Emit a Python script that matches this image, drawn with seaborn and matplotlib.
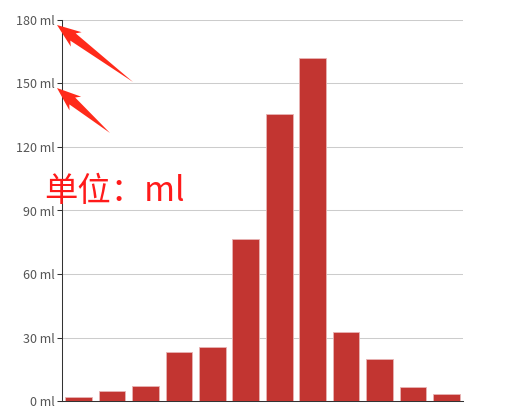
import numpy as np
import pandas as pd
import seaborn as sns
import matplotlib.pyplot as plt
from matplotlib.patches import Polygon

# rainfall per month (ml)
months = ['1月', '2月', '3月', '4月', '5月', '6月',
          '7月', '8月', '9月', '10月', '11月', '12月']
rainfall = [2.0, 4.9, 7.0, 23.2, 25.6, 76.7, 135.6, 162.2, 32.6, 20.0, 6.4, 3.3]
y_ticks = [0, 30, 60, 90, 120, 150, 180]
y_tick_labels = [f'{v} ml' for v in y_ticks]

sns.set_theme(style='white')
plt.rcParams['font.family'] = ['Noto Sans CJK SC', 'DejaVu Sans']

df = pd.DataFrame({'month': months, 'rainfall': rainfall})

W, H = 512, 411
fig = plt.figure(figsize=(W / 100, H / 100), dpi=100)
ax = fig.add_axes([62 / W, 10 / H, 401 / W, 381 / H])

sns.barplot(data=df, x='month', y='rainfall', color='#c23531', saturation=1,
            width=0.8, edgecolor='#e8b4b4', linewidth=0.6, ax=ax, zorder=3)

ax.set_ylim(0, 180)
ax.set_xlim(-0.5, len(months) - 0.5)
ax.set_yticks(y_ticks)
ax.set_yticklabels(y_tick_labels)
ax.set_xlabel('')
ax.set_ylabel('')
ax.yaxis.grid(True, color='#cccccc', linewidth=0.75, zorder=0)
ax.xaxis.grid(False)
for side in ['top', 'right']:
    ax.spines[side].set_visible(False)
for side in ['left', 'bottom']:
    ax.spines[side].set_color('#333333')
    ax.spines[side].set_linewidth(0.75)
ax.tick_params(axis='y', left=True, length=3.6, width=0.75, color='#333333',
               labelsize=9, labelcolor='#555555', pad=1.5)
ax.tick_params(axis='x', bottom=False, labelbottom=False)


def red_arrow(tail, tip, head_len=20, head_w=9, shaft_w=4.5, notch=4):
    """Tapered arrow drawn in figure pixels (y measured from the top)."""
    s = np.array([tail[0], H - tail[1]], dtype=float)
    t = np.array([tip[0], H - tip[1]], dtype=float)
    u = (t - s) / np.linalg.norm(t - s)
    n = np.array([-u[1], u[0]])
    base = t - head_len * u
    barb = t - (head_len + notch) * u
    pts = [s, base + shaft_w * n, barb + head_w * n, t,
           barb - head_w * n, base - shaft_w * n]
    fig.add_artist(Polygon(pts, closed=True, transform=None,
                           facecolor='#ff2a1a', edgecolor='none'))


red_arrow((133, 82), (57, 25))
red_arrow((110, 133), (57, 88))

fig.text(44 / W, 1 - 191 / H, '单位：ml', color='#ff1a1a', fontsize=24,
         ha='left', va='center')

fig.savefig('out.png', dpi=100)
